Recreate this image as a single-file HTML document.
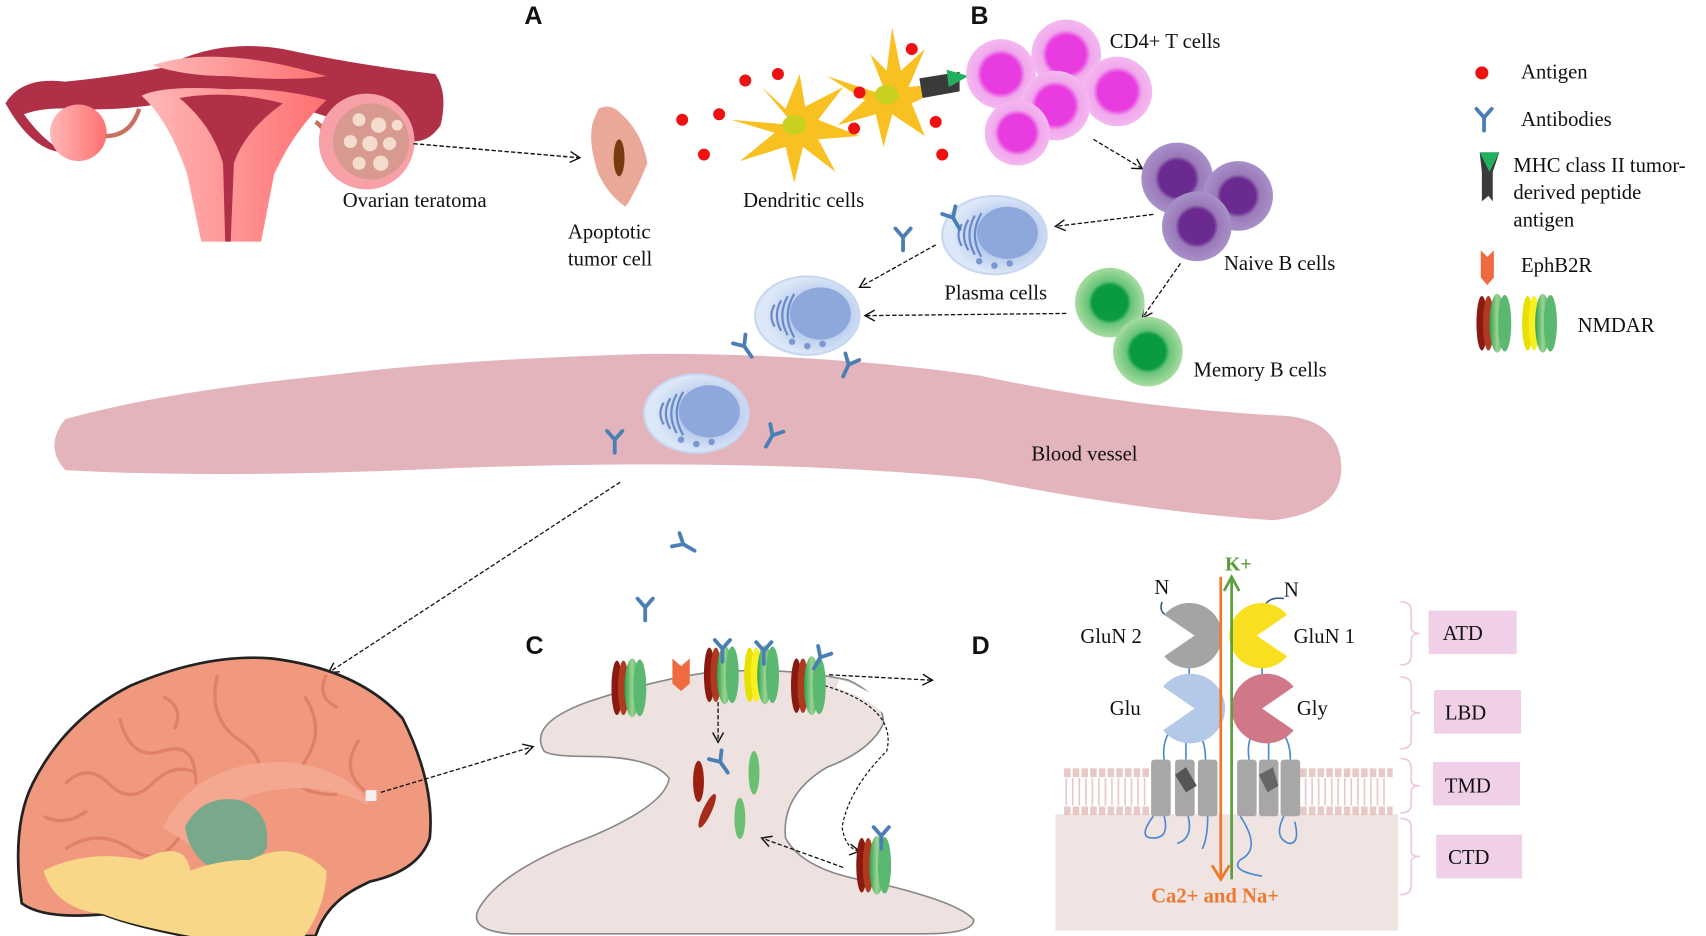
<!DOCTYPE html>
<html><head><meta charset="utf-8"><style>
html,body{margin:0;padding:0;background:#fff;width:1706px;height:936px;overflow:hidden}
svg{display:block}
text{font-family:"Liberation Serif",serif;font-size:19px;fill:#111}
.L{font-family:"Liberation Sans",sans-serif;font-weight:bold;font-size:23px}
</style></head><body>
<svg width="1706" height="936" viewBox="0 0 1568 860" preserveAspectRatio="none">
<defs>
<marker id="ah" markerWidth="12" markerHeight="12" refX="10" refY="6" orient="auto" markerUnits="userSpaceOnUse"><path d="M1,1 L10,6 L1,11" fill="none" stroke="#111" stroke-width="1.3"/></marker>
<g id="ab"><path d="M0,0 V12 M0,0 L-7,-8 M0,0 L7,-8" stroke="#4a7fb5" stroke-width="3.5" stroke-linecap="round" fill="none"/></g>
<radialGradient id="mag"><stop offset="0.55" stop-color="#e83ce0"/><stop offset="0.7" stop-color="#f0a8ec"/><stop offset="1" stop-color="#f4b8f0"/></radialGradient>
<radialGradient id="pur"><stop offset="0.5" stop-color="#6a2a90"/><stop offset="0.62" stop-color="#9a7ab8"/><stop offset="1" stop-color="#a890c8"/></radialGradient>
<radialGradient id="grn"><stop offset="0.5" stop-color="#0a9a40"/><stop offset="0.62" stop-color="#6ac47a"/><stop offset="1" stop-color="#a8dca0"/></radialGradient>
<radialGradient id="pl" cx="0.6" cy="0.5"><stop offset="0" stop-color="#8ea8e0"/><stop offset="1" stop-color="#dce8f8"/></radialGradient>
<linearGradient id="pk" x1="0" x2="1"><stop offset="0" stop-color="#ffb8b8"/><stop offset="1" stop-color="#ff7070"/></linearGradient>
<linearGradient id="gr" x1="0" x2="1"><stop offset="0" stop-color="#2ea050"/><stop offset="0.5" stop-color="#9ad490"/><stop offset="1" stop-color="#3aa860"/></linearGradient>
<g id="nm"><ellipse cx="-8" cy="0" rx="5" ry="25" fill="#8a1a10"/><ellipse cx="-2" cy="0" rx="5" ry="25" fill="#b03a20"/><ellipse cx="6" cy="0" rx="7" ry="27" fill="url(#gr)"/><ellipse cx="13" cy="0" rx="6" ry="26" fill="#5ab870"/></g>
<g id="nmy"><ellipse cx="-8" cy="0" rx="5" ry="25" fill="#e8e000"/><ellipse cx="-2" cy="0" rx="5" ry="25" fill="#f8f020"/><ellipse cx="6" cy="0" rx="7" ry="27" fill="url(#gr)"/><ellipse cx="13" cy="0" rx="6" ry="26" fill="#5ab870"/></g>
<g id="pc"><ellipse cx="0" cy="0" rx="48" ry="36" fill="url(#pl)" stroke="#c8d8f0" stroke-width="2"/><ellipse cx="12" cy="-2" rx="28" ry="24" fill="#8ea8dc"/><path d="M-18,-18 q-10,18 0,36 M-24,-14 q-8,14 0,28 M-30,-10 q-6,10 0,20 M-12,-20 q-12,20 0,40" stroke="#6a88c8" stroke-width="2" fill="none"/><circle cx="-14" cy="24" r="3" fill="#7a98d0"/><circle cx="0" cy="28" r="3" fill="#7a98d0"/><circle cx="14" cy="26" r="3" fill="#7a98d0"/></g>
</defs>

<!-- Uterus -->
<path d="M5,95 Q20,70 60,75 Q110,70 150,62 Q200,35 260,45 Q330,60 400,68 Q412,85 405,115 Q395,130 380,130 Q365,112 320,112 Q300,108 280,100 Q250,90 215,85 Q180,90 150,95 Q110,102 70,100 Q40,98 22,105 Q40,130 60,140 Q30,140 5,95Z" fill="#b03048"/>
<path d="M140,60 Q200,40 300,70 Q270,75 210,70 Q170,70 140,60Z" fill="url(#pk)"/>
<path d="M130,88 Q150,78 210,82 Q255,80 300,92 Q270,120 252,160 L240,222 L185,222 L172,160 Q155,110 130,88Z" fill="url(#pk)"/>
<path d="M165,90 Q210,82 260,95 Q225,120 215,150 L212,222 L207,222 L205,150 Q195,115 165,90Z" fill="#b03048"/>
<circle cx="72" cy="122" r="26" fill="url(#pk)"/>
<path d="M97,125 Q120,125 128,100" stroke="#c87060" stroke-width="4" fill="none"/>
<path d="M298,130 Q300,118 290,112" stroke="#c87060" stroke-width="4" fill="none"/>
<circle cx="337" cy="130" r="44" fill="#f8a0a8"/>
<circle cx="341" cy="130" r="35" fill="#d89a90"/>
<g fill="#f8e8d8" opacity="0.85"><circle cx="330" cy="110" r="6"/><circle cx="348" cy="115" r="7"/><circle cx="322" cy="130" r="6"/><circle cx="340" cy="132" r="7"/><circle cx="358" cy="132" r="6"/><circle cx="330" cy="150" r="6"/><circle cx="350" cy="150" r="7"/><circle cx="365" cy="115" r="5"/></g>
<text x="315" y="190">Ovarian teratoma</text>
<line x1="380" y1="132" x2="533" y2="145" stroke="#111" stroke-width="1.3" stroke-dasharray="4,2" marker-end="url(#ah)"/>
<path d="M550,100 Q560,95 568,102 Q590,120 595,150 Q585,175 575,190 Q560,180 550,160 Q540,130 545,112Z" fill="#eaa898"/>
<ellipse cx="569" cy="145" rx="5" ry="17" fill="#7a3a10"/>
<text x="522" y="219">Apoptotic</text><text x="522" y="244">tumor cell</text>

<text class="L" x="482" y="22">A</text>
<text class="L" x="892" y="22">B</text>
<text class="L" x="483" y="601">C</text>
<text class="L" x="893" y="601">D</text>

<path d="M730,115 L700,80 L722,100 L735,68 L740,98 L775,80 L752,110 L790,125 L752,128 L768,158 L738,135 L730,168 L722,135 L680,148 L712,122 L672,110 Z" fill="#f8c020"/>
<ellipse cx="730" cy="115" rx="11" ry="9" fill="#c8d020"/>
<path d="M815,88 L800,50 L815,65 L820,25 L828,65 L850,45 L835,80 L880,75 L838,95 L850,125 L820,105 L812,135 L805,105 L770,115 L795,92 L760,70 Z" fill="#f8c020"/>
<ellipse cx="815" cy="87" rx="11" ry="9" fill="#c8d020"/>
<path d="M845,72 L882,66 L882,84 L848,90Z" fill="#3a3a3a"/><path d="M870,64 L890,70 L872,80Z" fill="#20b060"/>
<g fill="#ee1111"><circle cx="627" cy="110" r="5.5"/><circle cx="661" cy="105" r="5.5"/><circle cx="647" cy="142" r="5.5"/><circle cx="685" cy="74" r="5.5"/><circle cx="715" cy="68" r="5.5"/><circle cx="838" cy="45" r="5.5"/><circle cx="790" cy="85" r="5.5"/><circle cx="785" cy="118" r="5.5"/><circle cx="860" cy="112" r="5.5"/><circle cx="866" cy="142" r="5.5"/></g>
<text x="683" y="190">Dendritic cells</text>

<circle cx="920" cy="68" r="32" fill="url(#mag)"/><circle cx="980" cy="50" r="32" fill="url(#mag)"/><circle cx="1027" cy="84" r="32" fill="url(#mag)"/><circle cx="970" cy="97" r="32" fill="url(#mag)"/><circle cx="935" cy="122" r="30" fill="url(#mag)"/>
<text x="1020" y="44">CD4+ T cells</text>
<line x1="1005" y1="128" x2="1050" y2="155" stroke="#111" stroke-width="1.2" stroke-dasharray="4,2" marker-end="url(#ah)"/>
<circle cx="1082" cy="164" r="33" fill="url(#pur)"/><circle cx="1138" cy="180" r="32" fill="url(#pur)"/><circle cx="1100" cy="208" r="32" fill="url(#pur)"/>
<text x="1125" y="248">Naive B cells</text>
<line x1="1060" y1="197" x2="970" y2="208" stroke="#111" stroke-width="1.2" stroke-dasharray="4,2" marker-end="url(#ah)"/>
<line x1="1085" y1="242" x2="1050" y2="292" stroke="#111" stroke-width="1.2" stroke-dasharray="4,2" marker-end="url(#ah)"/>
<circle cx="1020" cy="278" r="32" fill="url(#grn)"/><circle cx="1055" cy="323" r="32" fill="url(#grn)"/>
<text x="1097" y="346">Memory B cells</text>
<use href="#pc" x="914" y="216"/>
<use href="#ab" x="876" y="200" transform="rotate(-30 876 200)"/>
<use href="#ab" x="830" y="218"/>
<text x="868" y="275">Plasma cells</text>
<line x1="860" y1="225" x2="790" y2="264" stroke="#111" stroke-width="1.2" stroke-dasharray="4,2" marker-end="url(#ah)"/>
<line x1="980" y1="288" x2="795" y2="290" stroke="#111" stroke-width="1.2" stroke-dasharray="4,2" marker-end="url(#ah)"/>

<path d="M60,385 Q40,410 60,432 Q200,440 420,430 Q700,420 900,440 Q1050,470 1170,478 Q1240,470 1232,420 Q1225,385 1180,382 Q1040,375 900,345 Q760,325 600,325 Q420,330 300,345 Q150,360 60,385Z" fill="#e4b4bc"/>
<use href="#pc" x="742" y="290"/>
<use href="#ab" x="684" y="318" transform="rotate(-35 684 318)"/>
<use href="#ab" x="780" y="335" transform="rotate(25 780 335)"/>
<use href="#pc" x="640" y="380"/>
<use href="#ab" x="565" y="404"/>
<use href="#ab" x="710" y="400" transform="rotate(30 710 400)"/>
<text x="948" y="423">Blood vessel</text>
<line x1="570" y1="443" x2="302" y2="618" stroke="#111" stroke-width="1.2" stroke-dasharray="4,2" marker-end="url(#ah)"/>
<use href="#ab" x="628" y="500" transform="rotate(-60 628 500)"/>
<use href="#ab" x="593" y="558"/>

<!-- brain -->
<path d="M20,830 Q10,760 30,720 Q60,660 120,630 Q190,600 250,605 Q330,615 370,660 Q400,720 395,770 Q385,800 340,810 L330,815 Q300,830 290,860 L170,860 Q120,850 95,840 Q40,845 20,830Z" fill="#f0997e" stroke="#222" stroke-width="2.5"/>
<g stroke="#e08068" stroke-width="3" fill="none"><path d="M60,720 q20,-20 40,0 t40,0 t40,-10"/><path d="M110,660 q10,40 40,30 t30,30"/><path d="M200,620 q-10,40 20,60 t10,40"/><path d="M280,640 q20,30 0,60 t30,30"/><path d="M60,780 q30,-20 60,0 t50,-20"/><path d="M330,680 q-20,30 10,50"/><path d="M40,750 q20,10 40,-5"/><path d="M300,620 q-10,20 10,30"/><path d="M150,640 q20,10 10,30"/></g>
<path d="M150,760 Q180,700 260,700 Q320,705 340,740 Q300,720 260,725 Q200,730 180,780Z" fill="#f4a890"/>
<path d="M170,760 Q185,730 220,735 Q250,745 245,780 Q230,800 200,800 Q175,790 170,760Z" fill="#7aa88a"/>
<path d="M40,800 Q80,780 130,790 Q170,770 175,800 Q200,790 230,790 Q270,770 300,800 Q300,830 280,860 L175,860 Q120,850 95,840 Q50,835 40,800Z" fill="#f8d888"/>
<rect x="336" y="726" width="10" height="10" fill="#f4f0f0"/>
<line x1="350" y1="728" x2="490" y2="686" stroke="#111" stroke-width="1.2" stroke-dasharray="4,2" marker-end="url(#ah)"/>

<!-- neuron C -->
<path d="M500,690 Q485,665 540,645 Q600,625 650,618 Q720,612 780,625 Q812,640 812,665 Q800,690 760,705 Q718,730 722,770 Q738,800 800,810 Q880,828 895,845 Q895,858 850,858 L470,858 Q430,855 440,835 Q460,800 540,770 Q612,740 615,715 Q600,695 540,695 Q505,695 500,690Z" fill="#ede2e0" stroke="#888" stroke-width="1.5"/>
<path d="M770,628 Q835,650 825,690 Q790,725 785,762 Q788,785 805,790" stroke="#fff" stroke-width="8" fill="none"/>
<path d="M758,630 Q825,650 815,690 Q780,725 774,760 Q777,780 790,782" stroke="#111" stroke-width="1.1" stroke-dasharray="3,2" fill="none" marker-end="url(#ah)"/>
<use href="#nm" x="575" y="632"/>
<path d="M618,605 L626,612 L634,605 L634,628 L626,635 L618,628Z" fill="#f06a40"/>
<use href="#nm" x="660" y="620"/><use href="#ab" x="664" y="596"/>
<use href="#nmy" x="697" y="620"/><use href="#ab" x="702" y="598"/>
<use href="#nm" x="740" y="630"/><use href="#ab" x="754" y="604" transform="rotate(30 754 604)"/>
<line x1="762" y1="620" x2="857" y2="625" stroke="#111" stroke-width="1.2" stroke-dasharray="4,2" marker-end="url(#ah)"/>
<line x1="660" y1="645" x2="660" y2="682" stroke="#111" stroke-width="1.2" stroke-dasharray="4,2" marker-end="url(#ah)"/>
<ellipse cx="642" cy="718" rx="5" ry="19" fill="#9a2010"/><ellipse cx="650" cy="745" rx="4" ry="17" fill="#a82a18" transform="rotate(25 650 745)"/>
<ellipse cx="693" cy="710" rx="5" ry="20" fill="#6ac070"/><ellipse cx="680" cy="752" rx="5" ry="19" fill="#6ac070"/>
<use href="#ab" x="662" y="700" transform="rotate(-35 662 700)"/>
<use href="#nm" x="800" y="795"/><use href="#ab" x="810" y="768"/>
<line x1="775" y1="797" x2="700" y2="770" stroke="#111" stroke-width="1.2" stroke-dasharray="4,2" marker-end="url(#ah)"/>

<!-- panel D -->
<rect x="970" y="748" width="315" height="107" fill="#efe4e2"/>
<path d="M978,710 H1060 M1195,710 H1280 M978,745 H1060 M1195,745 H1280" stroke="#e8c8c4" stroke-width="8" stroke-dasharray="6,2"/>
<path d="M980,715 v25 M986,715 v25 M992,715 v25 M998,715 v25 M1004,715 v25 M1010,715 v25 M1016,715 v25 M1022,715 v25 M1028,715 v25 M1034,715 v25 M1040,715 v25 M1046,715 v25 M1052,715 v25 M1200,715 v25 M1206,715 v25 M1212,715 v25 M1218,715 v25 M1224,715 v25 M1230,715 v25 M1236,715 v25 M1242,715 v25 M1248,715 v25 M1254,715 v25 M1260,715 v25 M1266,715 v25 M1272,715 v25" stroke="#e8c8c4" stroke-width="1.5"/>
<g fill="#a8a6a6"><rect x="1058" y="698" width="18" height="52" rx="3"/><rect x="1080" y="698" width="18" height="52" rx="3"/><rect x="1101" y="698" width="18" height="52" rx="3"/><rect x="1137" y="698" width="18" height="52" rx="3"/><rect x="1157" y="698" width="18" height="52" rx="3"/><rect x="1177" y="698" width="18" height="52" rx="3"/></g>
<path d="M1080,712 L1090,705 L1100,722 L1090,728Z" fill="#555"/><path d="M1157,712 L1170,705 L1175,722 L1165,728Z" fill="#666"/>
<path d="M1070,698 q-3,-20 12,-35 M1090,698 v-30 M1108,698 q0,-20 -10,-30 M1148,698 q-3,-20 8,-30 M1166,698 v-30 M1186,698 q0,-20 -12,-30 M1093,620 v-8 M1160,620 v-8" stroke="#4a88d0" stroke-width="1.5" fill="none"/>
<path d="M1060,750 q-15,20 0,20 q15,0 10,-20 M1092,750 q5,20 -10,25 M1110,750 q0,20 -5,30 M1140,750 q20,30 0,40 q-10,10 20,15 M1180,750 q-10,20 5,25 q10,0 5,-20" stroke="#4a88d0" stroke-width="1.5" fill="none"/>
<path d="M1068,553 q-4,12 10,14 q8,0 10,5" stroke="#3a5a8a" stroke-width="1.5" fill="none"/>
<path d="M1180,550 q-15,-2 -18,8 q-2,8 -2,14" stroke="#3a5a8a" stroke-width="1.5" fill="none"/>
<!-- pacmen: gray mouth left, yellow mouth right, blue left, pink right -->
<path d="M1070,565 A30,30 0 1 1 1070,603 L1098,584Z" fill="#a4a4a4"/>
<path d="M1183,565 A30,30 0 1 0 1183,603 L1155,584Z" fill="#f8e020"/>
<path d="M1069,631 A32,32 0 1 1 1069,671 L1098,651Z" fill="#b4c8e8"/>
<path d="M1189,631 A32,32 0 1 0 1189,671 L1160,651Z" fill="#d07888"/>
<line x1="1122" y1="530" x2="1122" y2="805" stroke="#f07828" stroke-width="2.5"/><path d="M1114,795 L1122,808 L1130,795" stroke="#f07828" stroke-width="2.5" fill="none"/>
<line x1="1132" y1="808" x2="1132" y2="532" stroke="#5aa040" stroke-width="2.5"/><path d="M1125,543 L1132,530 L1139,543" stroke="#5aa040" stroke-width="2.5" fill="none"/>
<text x="1126" y="524" style="font-weight:bold;fill:#5a9a38;font-size:18px">K+</text>
<text x="1061" y="546" style="font-size:19px">N</text><text x="1180" y="548" style="font-size:19px">N</text>
<text x="993" y="591">GluN 2</text><text x="1189" y="591">GluN 1</text>
<text x="1020" y="657">Glu</text><text x="1192" y="657">Gly</text>
<text x="1058" y="829" style="font-weight:bold;fill:#ee7830;font-size:19px">Ca2+ and Na+</text>
<g stroke="#ecc8e0" stroke-width="1.5" fill="none"><path d="M1287,553 q10,0 10,8 v14 q0,7 8,7 q-8,0 -8,7 v14 q0,8 -10,8"/><path d="M1287,622 q10,0 10,8 v20 q0,5 8,5 q-8,0 -8,5 v20 q0,8 -10,8"/><path d="M1287,697 q10,0 10,8 v12 q0,5 8,5 q-8,0 -8,5 v12 q0,8 -10,8"/><path d="M1287,752 q10,0 10,8 v22 q0,5 8,5 q-8,0 -8,5 v22 q0,8 -10,8"/></g>
<g fill="#f0d0e8"><rect x="1313" y="561" width="81" height="40"/><rect x="1318" y="634" width="80" height="40"/><rect x="1317" y="700" width="80" height="40"/><rect x="1320" y="767" width="79" height="40"/></g>
<text x="1326" y="588">ATD</text><text x="1328" y="661">LBD</text><text x="1328" y="728">TMD</text><text x="1331" y="794">CTD</text>

<!-- legend -->
<circle cx="1362" cy="67" r="6" fill="#ee1111"/><text x="1398" y="72">Antigen</text>
<use href="#ab" x="1364" y="108"/><text x="1398" y="116">Antibodies</text>
<path d="M1360,140 L1378,140 L1372,158 L1372,185 L1368,180 L1362,185 L1362,158Z" fill="#3a3a3a"/><path d="M1360,140 L1378,140 L1369,158Z" fill="#20b060"/>
<text x="1391" y="158">MHC class II tumor-</text><text x="1391" y="183">derived peptide</text><text x="1391" y="208">antigen</text>
<path d="M1361,230 L1367,236 L1373,230 L1373,255 L1367,262 L1361,255Z" fill="#f06a40"/><text x="1398" y="250">EphB2R</text>
<use href="#nm" x="1370" y="297"/><use href="#nmy" x="1412" y="297"/>
<text x="1450" y="305">NMDAR</text>
</svg>
</body></html>
